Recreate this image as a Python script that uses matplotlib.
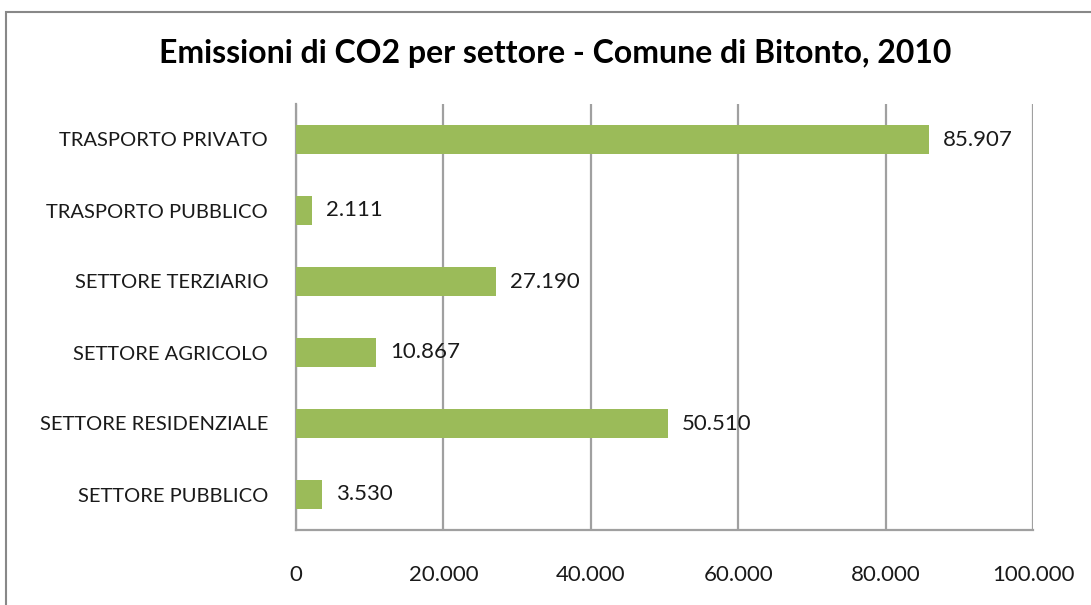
import matplotlib.pyplot as plt
from matplotlib.patches import Rectangle

plt.rcParams['font.family'] = ['Lato', 'DejaVu Sans']

# dati
settori = ['SETTORE PUBBLICO', 'SETTORE RESIDENZIALE', 'SETTORE AGRICOLO',
           'SETTORE TERZIARIO', 'TRASPORTO PUBBLICO', 'TRASPORTO PRIVATO']
emissioni = [3530, 50510, 10867, 27190, 2111, 85907]
etichette = ['3.530', '50.510', '10.867', '27.190', '2.111', '85.907']
xticks = [0, 20000, 40000, 60000, 80000, 100000]
xticklabels = ['0', '20.000', '40.000', '60.000', '80.000', '100.000']

fig = plt.figure(figsize=(10.91, 6.05), dpi=100)
ax = fig.add_axes([296/1091, 1-530/605, (1033-296)/1091, (530-104)/605])

grey = '#a0a0a0'
ax.barh(range(len(settori)), emissioni, height=0.4, color='#9bbb59', zorder=3)
for i, (v, t) in enumerate(zip(emissioni, etichette)):
    ax.text(v + 1900, i, t, va='center', ha='left', fontsize=16, color='#1a1a1a')

ax.set_xlim(0, 100000)
ax.set_ylim(-0.5, len(settori) - 0.5)
ax.set_xticks(xticks)
ax.set_xticklabels(xticklabels, fontsize=16, color='#1a1a1a')
ax.set_yticks(range(len(settori)))
ax.set_yticklabels(settori, fontsize=14.5, color='#1a1a1a')
ax.tick_params(axis='x', length=0, pad=25)
ax.tick_params(axis='y', length=0, pad=20)
ax.grid(axis='x', color=grey, linewidth=1.6, zorder=1)
for s in ['top', 'right']:
    ax.spines[s].set_visible(False)
for s in ['left', 'bottom']:
    ax.spines[s].set_color(grey)
    ax.spines[s].set_linewidth(1.6)

fig.text(0.509, 1-53/605, 'Emissioni di CO2 per settore - Comune di Bitonto, 2010',
         ha='center', va='center', fontsize=23, fontweight='bold')

# cornice
fig.patches.append(Rectangle((6/1091, -0.05), 1.05, 1-12/605+0.05,
                             transform=fig.transFigure, fill=False,
                             edgecolor='#888888', linewidth=1.5))

fig.savefig('out.png', dpi=100)
